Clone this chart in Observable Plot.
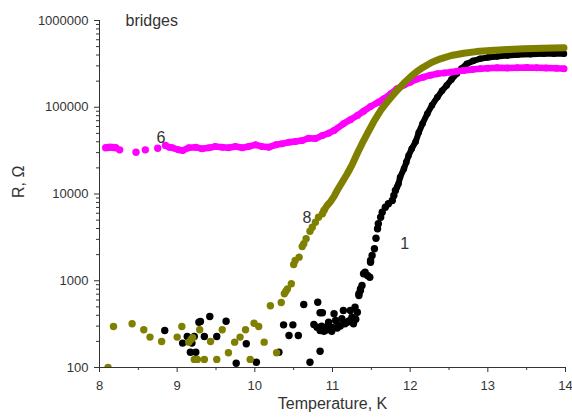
<!DOCTYPE html>
<html>
<head>
<meta charset="utf-8">
<script src="https://cdn.jsdelivr.net/npm/d3@7"></script>
<script src="https://cdn.jsdelivr.net/npm/@observablehq/plot@0.6"></script>
<style>
  html, body { margin: 0; padding: 0; background: #fff; }
  #chart { width: 572px; height: 418px; }
</style>
</head>
<body>
<div id="chart"></div>
<script>
// ---- tick values ----
const xMajorTicks = [8, 9, 10, 11, 12, 13, 14];
const xMinorTicks = [8.5, 9.5, 10.5, 11.5, 12.5, 13.5];
const yMajorTicks = [100, 1000, 10000, 100000, 1000000];
const yMinorTicks = [200,300,400,500,600,700,800,900,
  2000,3000,4000,5000,6000,7000,8000,9000,
  20000,30000,40000,50000,60000,70000,80000,90000,
  200000,300000,400000,500000,600000,700000,800000,900000];

// ---- series 6 (magenta) ----
const magentaDots = [[8.08,34070],[8.11,34300],[8.14,34650],[8.18,34300],[8.21,34070],[8.26,32300],
  [8.47,30340],[8.59,32300],[8.75,33730],[8.85,36240]];
const magentaBand = [[8.90,34500],[8.94,34070],[9.02,32300],[9.07,31700],[9.15,34070],[9.24,34650],
  [9.32,33190],[9.41,34070],[9.49,35300],[9.58,34650],[9.66,34070],[9.75,35300],[9.84,34070],
  [9.92,35300],[10.01,36900],[10.09,35300],[10.18,34650],[10.27,36900],[10.35,37900],[10.44,39550],
  [10.52,40300],[10.61,41370],[10.69,44000],[10.78,43500],[10.87,47200],[10.95,50200],[11.02,53950],
  [11.14,64400],[11.23,72000],[11.32,80300],[11.40,90000],[11.49,102000],[11.58,113000],[11.66,125000],
  [11.75,143000],[11.83,163300],[11.92,180000],[12.00,194500],[12.08,210000],[12.17,222100],
  [12.26,234000],[12.35,243000],[12.44,249000],[12.52,253600],[12.60,260000],[12.69,265400],
  [12.80,272000],[12.90,277400],[13.00,281000],[13.12,285000],[13.25,283000],[13.38,285000],
  [13.50,287000],[13.63,285000],[13.75,283000],[13.88,281000],[13.98,277400]];

// ---- series 8 (olive) ----
const oliveDots = [[8.11,100],[8.18,297],[8.42,319],[8.57,272],[8.65,224],[8.80,199],[9.00,224],
  [9.06,297],[9.15,196],[9.18,210],[9.20,220],[9.22,124],[9.26,124],[9.29,272],[9.35,124],[9.43,199],
  [9.51,124],[9.58,272],[9.66,148],[9.74,196],[9.81,224],[9.88,272],[9.94,124],[9.99,324],[10.05,297],
  [10.12,196],[10.20,514],[10.28,148],[10.34,561],
  [10.38,707],[10.40,758],[10.42,807],[10.47,922],[10.50,1540],[10.52,1711],[10.57,1870],
  [10.61,2483],[10.63,2667],[10.66,3043],[10.71,3725],[10.74,4140],[10.78,4730],[10.82,5400],
  [10.87,5910],[10.89,6450]];
const oliveBand = [[10.89,6450],[10.93,7370],[10.97,8050],[11.02,9400],[11.06,10970],[11.12,13500],
  [11.19,17100],[11.25,21500],[11.32,29500],[11.38,38000],[11.45,50000],[11.53,68000],[11.62,91800],
  [11.72,120000],[11.83,156000],[11.92,190000],[12.00,222100],[12.08,255000],[12.17,289700],
  [12.28,330000],[12.39,361700],[12.53,395000],[12.69,419700],[12.85,438000],[13.03,451000],
  [13.25,463000],[13.46,472000],[13.70,478000],[13.98,484500]];

// ---- series 1 (black) ----
const blackDots = [[8.84,267],[9.07,191],[9.13,228],[9.17,150],[9.19,191],[9.22,228],[9.24,150],
  [9.28,333],[9.30,340],[9.35,228],[9.42,387],[9.51,228],[9.63,341],[9.76,112],[9.89,188],[10.02,115],
  [10.31,150],[10.37,310],[10.44,234],[10.49,310],[10.56,234],[10.63,532],[10.71,115],[10.81,566],
  [10.84,154],[10.76,313],[10.80,292],[10.84,267],[10.86,300],[10.89,262],[10.91,285],[10.92,270],
  [10.94,300],[10.84,427],[10.87,427],[10.95,333],[10.97,279],[10.99,262],[11.00,290],[11.02,416],
  [11.04,348],[11.06,285],[11.08,305],[11.10,300],[11.12,364],[11.14,454],[11.16,320],[11.19,333],
  [11.21,345],[11.23,454],[11.25,380],[11.27,319],[11.29,496],[11.30,360],[11.32,434],
  [11.34,676],[11.34,707],[11.36,772],[11.36,807],[11.38,881],[11.40,1202],[11.42,1256],[11.45,1149],
  [11.48,1099],[11.49,1636],[11.49,1711],[11.51,1954],[11.54,2334],[11.56,3093],[11.58,3971],
  [11.59,4533],[11.62,5403],[11.64,6170],[11.68,7046],[11.72,7708],[11.77,8414],[11.79,9613],
  [11.81,10970]];
const blackBand = [[11.83,12000],[11.85,13110],[11.87,15620],[11.92,19520],[11.95,23280],[11.98,27790],
  [12.02,33190],[12.07,40000],[12.11,51000],[12.16,65000],[12.22,84000],[12.28,105000],[12.35,130600],
  [12.41,155000],[12.47,178200],[12.53,208000],[12.60,243000],[12.66,280000],[12.73,317000],
  [12.81,342000],[12.90,361700],[13.00,374000],[13.12,384600],[13.25,394000],[13.38,402600],
  [13.55,408000],[13.72,413000],[13.85,413000],[13.98,413000]];

// ---- annotations ----
const seriesLabels = [{x: 8.79, y: 44460, text: "6"}, {x: 10.67, y: 5260, text: "8"}, {x: 11.93, y: 2667, text: "1"}];
const panelTitle = [{x: 8.335, y: 1000000, text: "bridges"}];

const MAGENTA = "#ff00ff", OLIVE = "#808000", BLACK = "#000000", INK = "#333333";
const px = d => d[0], py = d => d[1];

const chart = Plot.plot({
  width: 572,
  height: 418,
  marginLeft: 99,
  marginRight: 7,
  marginTop: 20,
  marginBottom: 51,
  style: {fontFamily: "'Liberation Sans', Arial, sans-serif", color: INK, background: "#fff"},
  x: {domain: [8, 14]},
  y: {type: "log", domain: [100, 1000000]},
  marks: [
    Plot.axisX(xMajorTicks, {tickSize: 5, tickPadding: 8, fontSize: 13, label: null, tickFormat: d => String(d)}),
    Plot.axisX(xMinorTicks, {tickSize: 3, label: null, tickFormat: () => ""}),
    Plot.axisY(yMajorTicks, {tickSize: 5, tickPadding: 6, fontSize: 13, label: null, tickFormat: d => String(d)}),
    Plot.axisY(yMinorTicks, {tickSize: 3, label: null, tickFormat: () => ""}),
    Plot.ruleX([8], {stroke: INK}),
    Plot.ruleY([100], {stroke: INK}),
    // black (1)
    Plot.line(blackBand, {x: px, y: py, stroke: BLACK, strokeWidth: 6, strokeLinecap: "round", strokeLinejoin: "round"}),
    Plot.dot(blackBand, {x: px, y: py, r: 3.3, fill: BLACK}),
    Plot.dot(blackDots, {x: px, y: py, r: 3.7, fill: BLACK, clip: true}),
    // magenta (6)
    Plot.line(magentaBand, {x: px, y: py, stroke: MAGENTA, strokeWidth: 6.5, strokeLinecap: "round", strokeLinejoin: "round"}),
    Plot.dot(magentaBand, {x: px, y: py, r: 3.5, fill: MAGENTA}),
    Plot.dot(magentaDots, {x: px, y: py, r: 3.7, fill: MAGENTA}),
    // olive (8)
    Plot.line(oliveBand, {x: px, y: py, stroke: OLIVE, strokeWidth: 7, strokeLinecap: "round", strokeLinejoin: "round"}),
    Plot.dot(oliveDots, {x: px, y: py, r: 3.7, fill: OLIVE, clip: true}),
    // text
    Plot.text(seriesLabels, {x: "x", y: "y", text: "text", fontSize: 16, fill: INK}),
    Plot.text(panelTitle, {x: "x", y: "y", text: "text", fontSize: 16, fill: INK, textAnchor: "start"}),
    Plot.text(["Temperature, K"], {frameAnchor: "bottom", dy: 41, text: d => d, fontSize: 16, fill: INK}),
    Plot.text(["R, Ω"], {frameAnchor: "left", dx: -81, dy: 4, rotate: -90, text: d => d, fontSize: 16, fill: INK})
  ]
});
document.getElementById("chart").appendChild(chart);
</script>
</body>
</html>
